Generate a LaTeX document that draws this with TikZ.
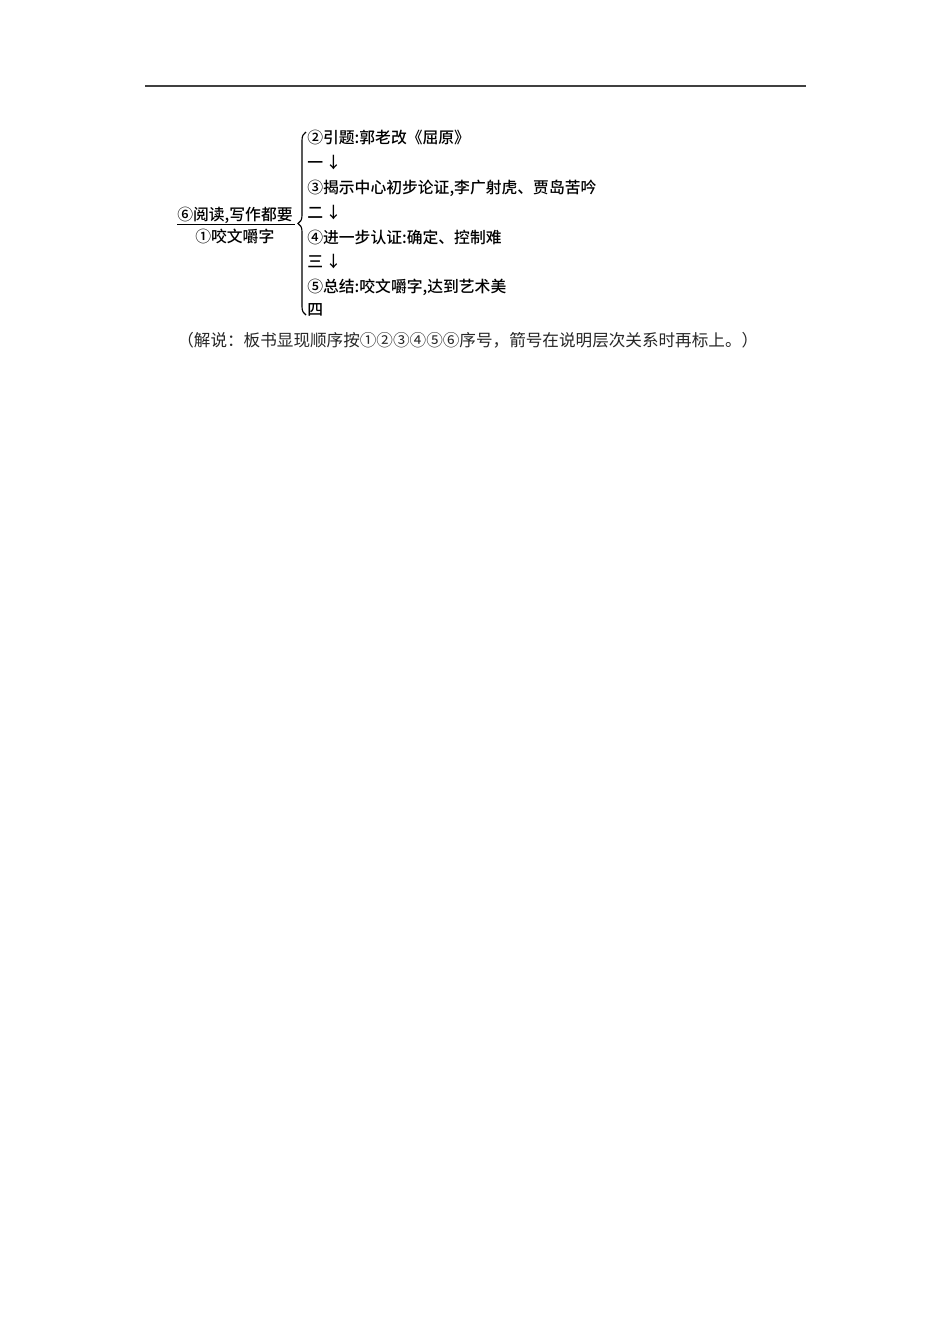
\documentclass[tikz,border=0pt]{standalone}
\usepackage{fontspec}
\newfontfamily\cjk{Noto Sans CJK SC}[BoldFont={Noto Sans CJK SC Medium}]
\usetikzlibrary{decorations.pathreplacing}
\tikzset{
  board/.style={anchor=west, inner sep=0pt, font=\cjk\bfseries\fontsize{9.9}{11}\selectfont},
  note/.style={anchor=west, inner sep=0pt, font=\cjk\fontsize{10.4}{12}\selectfont, text=black!85},
}
\begin{document}
\begin{tikzpicture}[x=0.6266pt, y=-0.6266pt]
      \useasboundingbox (0,0) rectangle (950,1344);
      \draw[line width=0.9pt, black!75] (145,86) -- (806,86);
      \draw
        (177,215) node[board] (top) {⑥阅读,写作都要}
        (195,236) node[board] (bot) {①咬文嚼字};
      \draw[line width=0.6pt] ([yshift=-0.3pt]top.south west) -- ([yshift=-0.3pt,xshift=1pt]top.south east);
      \draw[decorate, decoration={brace, amplitude=5pt}, line width=0.7pt] (306,315) -- (306,132);
      \draw
        (307,137) node[board] (l1) {②引题:郭老改《屈原》}
        (307,163) node[board] (l2) {一\,↓}
        (307,188) node[board] (l3) {③揭示中心初步论证,李广射虎、贾岛苦吟}
        (307,213) node[board] (l4) {二\,↓}
        (307,237) node[board] (l5) {④进一步认证:确定、控制难}
        (307,262) node[board] (l6) {三\,↓}
        (307,287) node[board] (l7) {⑤总结:咬文嚼字,达到艺术美}
        (307,310) node[board] (l8) {四};
      \node[note] (cap) at (177,340) {（解说：板书显现顺序按①②③④⑤⑥序号，箭号在说明层次关系时再标上。）};
    \end{tikzpicture}
\end{document}
